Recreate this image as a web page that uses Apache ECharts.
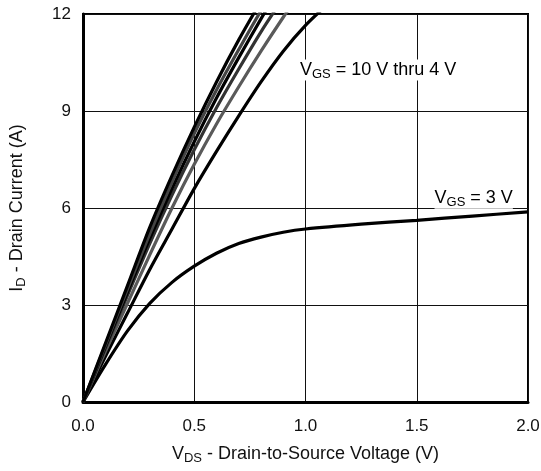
<!DOCTYPE html>
<html><head><meta charset="utf-8">
<script src="https://cdn.jsdelivr.net/npm/echarts@6/dist/echarts.min.js"></script>
<style>html,body{margin:0;padding:0;background:#fff}#c{width:541px;height:471px}</style>
</head><body><div id="c"></div>
<script>
var xTicks = [0, 0.5, 1.0, 1.5, 2.0];
var yTicks = [0, 3, 6, 9, 12];
var vgs10 = [[0,0],[0.1,1.8],[0.2,3.6],[0.3,5.4],[0.4,7.0],[0.5,8.5],[0.6,9.9],[0.7,11.2],[0.8,12.4]];
var vgs8 = [[0,0],[0.1,1.75],[0.2,3.5],[0.3,5.2],[0.4,6.8],[0.5,8.3],[0.6,9.65],[0.7,10.9],[0.8,12.1],[0.85,12.6]];
var vgs6 = [[0,0],[0.1,1.7],[0.2,3.4],[0.3,5.05],[0.4,6.6],[0.5,8.05],[0.6,9.4],[0.7,10.65],[0.8,11.85],[0.9,13]];
var vgs5 = [[0,0],[0.1,1.65],[0.2,3.3],[0.3,4.9],[0.4,6.4],[0.5,7.8],[0.6,9.1],[0.7,10.3],[0.8,11.45],[0.9,12.5]];
var vgs45 = [[0,0],[0.1,1.55],[0.2,3.05],[0.3,4.55],[0.4,6.0],[0.5,7.35],[0.6,8.6],[0.7,9.75],[0.8,10.85],[0.9,11.9],[1.0,12.9]];
var vgs4 = [[0,0],[0.1,1.4],[0.2,2.75],[0.3,4.1],[0.4,5.35],[0.5,6.6],[0.6,7.75],[0.7,8.85],[0.8,9.9],[0.9,10.85],[1.0,11.65],[1.1,12.3]];
var vgs3 = [[0,0],[0.1,1.15],[0.2,2.2],[0.3,3.05],[0.4,3.7],[0.5,4.2],[0.6,4.6],[0.7,4.9],[0.8,5.1],[0.9,5.25],[1.0,5.35],[1.25,5.5],[1.5,5.62],[1.75,5.75],[2.0,5.88]];
var labelHigh = {x: 0.975, y: 10.27, parts: ['V', 'GS', ' = 10 V thru 4 V']};
var labelLow = {x: 1.58, y: 6.3, parts: ['V', 'GS', ' = 3 V']};

var FONT = '"Liberation Sans", Arial, sans-serif';
var chart = echarts.init(document.getElementById('c'), null, {renderer: 'canvas'});
function ser(data, color) {
  return {type: 'line', data: data, smooth: 0.3, symbol: 'none', clip: true,
    lineStyle: {color: color, width: 3.2}, z: 3};
}
var rich = {
  n: {fontSize: 18, fontFamily: FONT, color: '#111'},
  s: {fontSize: 13, fontFamily: FONT, color: '#111', padding: [8, 0, 0, 0]}
};
chart.setOption({
  animation: false,
  grid: {left: 83, right: 13, top: 14, bottom: 69, containLabel: false, outerBoundsMode: 'none',
    show: true, borderColor: '#000', borderWidth: 2, backgroundColor: '#fff'},
  xAxis: {
    type: 'value', min: 0, max: 2, interval: 0.5,
    axisLine: {show: true, lineStyle: {color: '#000', width: 3}},
    axisTick: {show: false},
    splitLine: {show: true, lineStyle: {color: '#111', width: 1}},
    axisLabel: {fontSize: 17, fontFamily: FONT, color: '#111', margin: 16,
      formatter: function (v) { return xTicks.indexOf(v) >= 0 ? v.toFixed(1) : ''; }},
    name: '{n|V}{s|DS}{n| - Drain-to-Source Voltage (V)}',
    nameLocation: 'middle', nameGap: 42,
    nameTextStyle: {rich: rich}
  },
  yAxis: {
    type: 'value', min: 0, max: 12, interval: 3,
    axisLine: {show: true, lineStyle: {color: '#000', width: 3}},
    axisTick: {show: false},
    splitLine: {show: true, lineStyle: {color: '#111', width: 1}},
    axisLabel: {fontSize: 17, fontFamily: FONT, color: '#111', margin: 12,
      formatter: function (v) { return yTicks.indexOf(v) >= 0 ? String(v) : ''; }},
    name: '{n|I}{s|D}{n| - Drain Current (A)}',
    nameLocation: 'middle', nameGap: 55,
    nameTextStyle: {rich: rich}
  },
  series: [
    ser(vgs3, '#000'),
    ser(vgs4, '#000'),
    ser(vgs45, '#5a5a5a'),
    ser(vgs5, '#333'),
    ser(vgs6, '#000'),
    ser(vgs8, '#444'),
    ser(vgs10, '#000')
  ]
});
function addLabel(lbl) {
  var p = chart.convertToPixel({gridIndex: 0}, [lbl.x, lbl.y]);
  return {
    type: 'text', x: p[0], y: p[1], z: 10,
    style: {
      text: '{n|' + lbl.parts[0] + '}{s|' + lbl.parts[1] + '}{n|' + lbl.parts[2] + '}',
      rich: rich, backgroundColor: '#fff', padding: 0,
      verticalAlign: 'middle', align: 'left'
    }
  };
}
chart.setOption({graphic: [addLabel(labelHigh), addLabel(labelLow)]});
</script></body></html>
